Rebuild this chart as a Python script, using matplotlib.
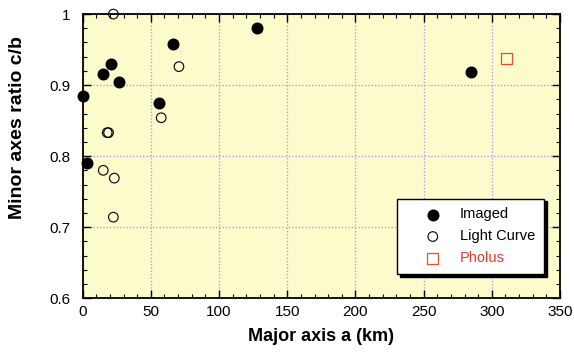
import matplotlib.pyplot as plt
from matplotlib.ticker import MultipleLocator, FixedLocator

plt.rcParams['font.family'] = ['Liberation Sans', 'DejaVu Sans']

# Imaged binaries
imaged_a = [0.5, 2.9, 14.6, 20.5, 26.8, 55.7, 66, 127.6, 285]
imaged_r = [0.884, 0.790, 0.916, 0.930, 0.905, 0.875, 0.958, 0.980, 0.918]

# Light curve objects
lc_a = [22.5, 70.6, 57.6, 18.0, 19.0, 15.1, 23.2, 22.5]
lc_r = [1.0, 0.926, 0.854, 0.833, 0.833, 0.780, 0.769, 0.714]

pholus_a = [310.6]
pholus_r = [0.937]

fig = plt.figure(figsize=(5.74, 3.52), dpi=100)
ax = fig.add_axes([0.144, 0.153, 0.8316, 0.807])
ax.set_facecolor('#fbfbcc')

ax.scatter(imaged_a, imaged_r, s=58, color='black', label='Imaged', zorder=3, clip_on=False)
ax.scatter(lc_a, lc_r, s=48, facecolor='none', edgecolor='black', linewidths=0.8,
           label='Light Curve', zorder=3, clip_on=False)
ax.scatter(pholus_a, pholus_r, s=60, marker='s', facecolor='none', edgecolor='#e8502a',
           linewidths=0.9, label='Pholus', zorder=3)

ax.set_xlim(0, 350)
ax.set_ylim(0.6, 1.0)
ax.xaxis.set_major_locator(MultipleLocator(50))
ax.xaxis.set_minor_locator(MultipleLocator(10))
ax.yaxis.set_major_locator(FixedLocator([0.6, 0.7, 0.8, 0.9, 1.0]))
ax.set_yticklabels(['0.6', '0.7', '0.8', '0.9', '1'])
ax.yaxis.set_minor_locator(MultipleLocator(0.02))

ax.tick_params(which='both', direction='in', top=True, right=True, labelsize=11)
ax.tick_params(which='major', length=6, width=1)
ax.tick_params(which='minor', length=3, width=0.8)
ax.tick_params(axis='y', which='major', pad=9)
ax.tick_params(axis='x', which='major', pad=5)
for sp in ax.spines.values():
    sp.set_linewidth(1.3)

ax.grid(True, which='major', color='#a890e8', linestyle=':', linewidth=0.9)
ax.set_axisbelow(True)

ax.set_xlabel('Major axis a (km)', fontsize=13, fontweight='bold')
ax.set_ylabel('Minor axes ratio c/b', fontsize=14, fontweight='bold')
ax.xaxis.set_label_coords(0.5, -0.105)
ax.yaxis.set_label_coords(-0.118, 0.60)

leg = ax.legend(loc='lower right', bbox_to_anchor=(0.966, 0.0845), fancybox=False,
                edgecolor='black', framealpha=1, fontsize=10.5,
                shadow={'color': 'black', 'alpha': 1},
                borderpad=0.6, handlelength=3.7, handletextpad=0.0,
                labelspacing=0.55, borderaxespad=0)
leg.get_frame().set_linewidth(1.0)
leg.get_texts()[2].set_color('#e8382a')

fig.savefig('out.png', dpi=100)
